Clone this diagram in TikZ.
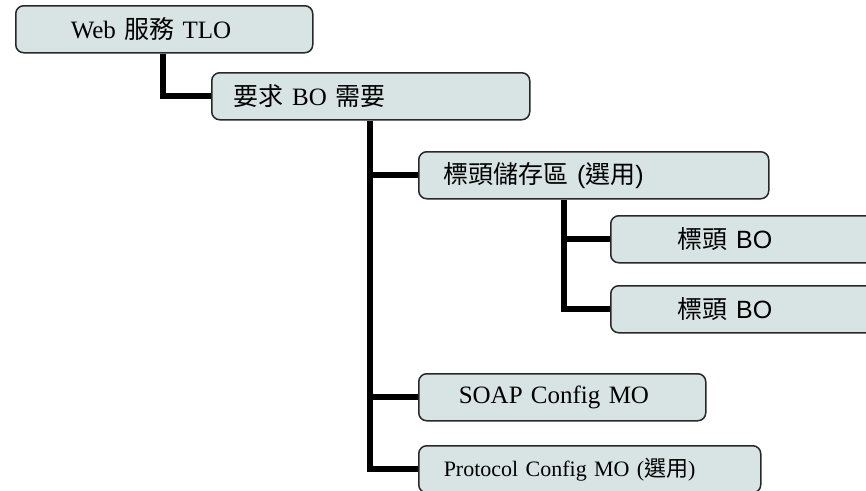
\documentclass[tikz,border=0pt]{standalone}
\usepackage{fontspec}
\setmainfont{Liberation Serif}
\newfontfamily\arialfont{Liberation Sans}
\newfontfamily\cjkfont{Noto Sans CJK TC}
\newcommand\zh[1]{{\cjkfont #1}}
\definecolor{boxfill}{RGB}{216,228,228}
\definecolor{boxline}{RGB}{40,40,40}

\begin{document}
\begin{tikzpicture}[x=1pt,y=-1pt, obj/.style={draw=boxline, line width=1.5pt, rounded corners=8pt, fill=boxfill, anchor=north west, minimum height=47pt, align=left, font=\fontsize{25pt}{30pt}\selectfont}, link/.style={line width=6pt, black}]
	\useasboundingbox (0,0) rectangle (866,490);
	\node[obj, inner xsep=55pt, text width=187pt] (tlo)   at (15,5)    {Web \zh{服務} TLO};
	\node[obj, inner xsep=22pt, text width=274pt] (req)   at (211,72)  {\zh{要求} BO \zh{需要}};
	\node[obj, inner xsep=25pt, text width=300pt] (store) at (418,151) {\arialfont\zh{標頭儲存區} (\zh{選用})};
	\node[obj, inner xsep=67pt, text width=136pt] (hdrA)  at (610,215) {\arialfont\zh{標頭} BO};
	\node[obj, inner xsep=67pt, text width=136pt] (hdrB)  at (610,285) {\arialfont\zh{標頭} BO};
	\node[obj, inner xsep=40pt, text width=207pt] (soap)  at (418,373) {SOAP Config MO};
	\node[obj, inner xsep=25pt, text width=292pt, font=\fontsize{22pt}{26pt}\selectfont] (proto) at (418,445) {Protocol Config MO (\zh{選用})};

	\draw[link] ([xshift=148pt]tlo.south west) |- (req.west);
	\draw[link] ([xshift=159pt]req.south west) |- (store.west)
		([xshift=159pt]req.south west) |- (soap.west)
		([xshift=159pt]req.south west) |- (proto.west);
	\draw[link] ([xshift=146pt]store.south west) |- (hdrA.west)
		([xshift=146pt]store.south west) |- (hdrB.west);
\end{tikzpicture}
\end{document}
